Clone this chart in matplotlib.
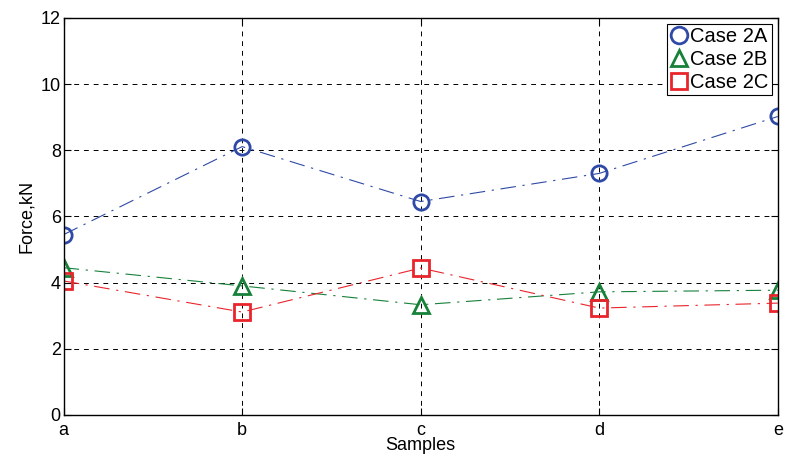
import matplotlib.pyplot as plt
from matplotlib.lines import Line2D

plt.rcParams["font.family"] = ["Liberation Sans", "DejaVu Sans"]

# ---------------- DATA ----------------
samples = ["a", "b", "c", "d", "e"]
case_2a = [5.45, 8.11, 6.45, 7.30, 9.02]
case_2b = [4.45, 3.90, 3.33, 3.72, 3.77]
case_2c = [4.05, 3.11, 4.44, 3.23, 3.38]

series = [
    ("Case 2A", case_2a, "#2f4aa6", "o"),
    ("Case 2B", case_2b, "#17813a", "^"),
    ("Case 2C", case_2c, "#e8252b", "s"),
]

# ---------------- PLOT ----------------
fig = plt.figure(figsize=(7.85, 4.59), dpi=100)
ax = fig.add_axes([0.081, 0.096, 0.9098, 0.865])

x = list(range(len(samples)))
handles = []
for label, vals, color, marker in series:
    ax.plot(x, vals, linestyle=(0, (14, 6, 2, 6)), linewidth=0.8, color=color,
            marker=marker, markersize=11, markerfacecolor="none",
            markeredgewidth=2, markeredgecolor=color)
    handles.append(Line2D([], [], linestyle="none", marker=marker, markersize=12,
                          markerfacecolor="none", markeredgewidth=2,
                          markeredgecolor=color, label=label))

ax.set_xlim(0, 4)
ax.set_ylim(0, 12)
ax.set_xticks(x)
ax.set_xticklabels(samples)
ax.set_yticks(range(0, 13, 2))
ax.set_xlabel("Samples", fontsize=13, labelpad=-1)
ax.set_ylabel("Force,kN", fontsize=13, labelpad=4)

ax.grid(True, color="black", linestyle=(0, (5, 5)), linewidth=0.7)
ax.tick_params(direction="in", top=True, right=True, labelsize=13, length=5)
ax.tick_params(axis="x", pad=5)
ax.tick_params(axis="y", pad=2)
for s in ax.spines.values():
    s.set_linewidth(1.0)

leg = ax.legend(handles=handles, loc="upper right", fontsize=14.5, handlelength=0.9,
                handletextpad=0.1, borderpad=0.15, labelspacing=0.2,
                borderaxespad=0.3, fancybox=False, framealpha=1)
leg.get_frame().set_edgecolor("black")
leg.get_frame().set_linewidth(0.8)

plt.savefig("out.png", dpi=100)
